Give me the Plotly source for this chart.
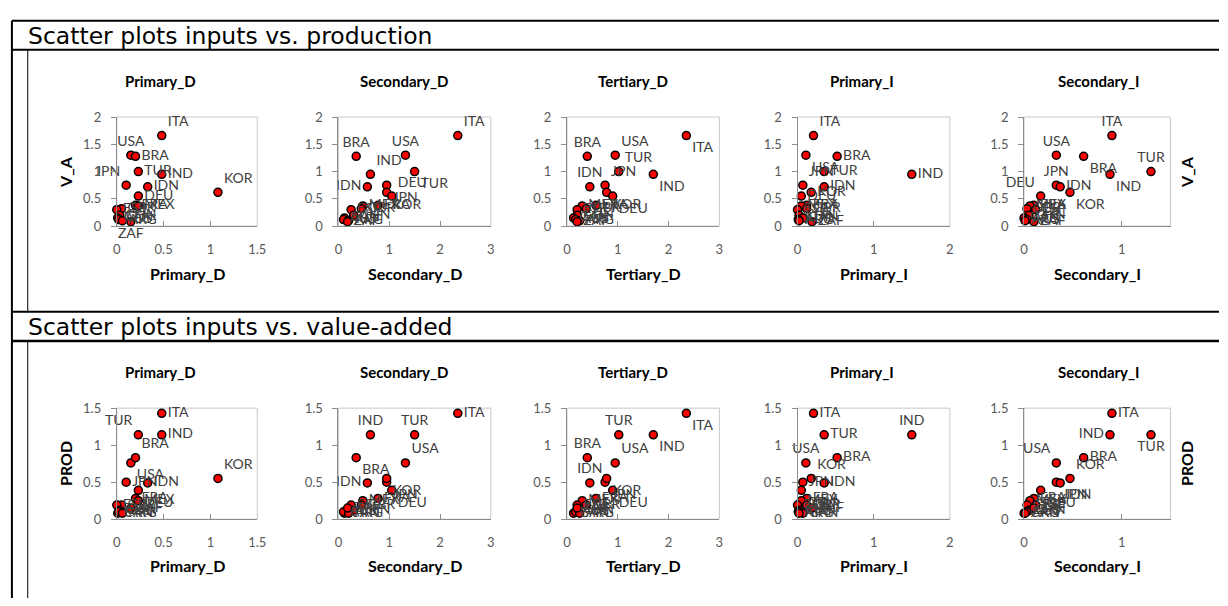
import plotly.graph_objects as go

# ---------------- data ----------------
countries = ["ITA", "USA", "BRA", "TUR", "IND", "JPN", "IDN", "KOR", "DEU",
             "FRA", "MEX", "GBR", "ESP", "CHN", "CAN", "AUS", "ARG", "ZAF"]
v_a = [1.66, 1.30, 1.28, 1.00, 0.95, 0.75, 0.72, 0.62, 0.55,
       0.38, 0.37, 0.32, 0.30, 0.20, 0.15, 0.12, 0.10, 0.08]
prod = [1.43, 0.76, 0.83, 1.14, 1.14, 0.50, 0.49, 0.55, 0.39,
        0.28, 0.25, 0.19, 0.19, 0.12, 0.08, 0.10, 0.08, 0.15]
primary_d = [0.48, 0.15, 0.20, 0.23, 0.48, 0.10, 0.33, 1.08, 0.23,
             0.20, 0.23, 0.05, 0.00, 0.03, 0.01, 0.02, 0.06, 0.15]
secondary_d = [2.35, 1.32, 0.35, 1.50, 0.63, 0.95, 0.57, 0.95, 1.05,
               0.78, 0.48, 0.45, 0.25, 0.30, 0.12, 0.10, 0.20, 0.18]
tertiary_d = [2.35, 0.95, 0.40, 1.02, 1.70, 0.75, 0.45, 0.78, 0.90,
              0.57, 0.30, 0.38, 0.20, 0.20, 0.13, 0.17, 0.25, 0.20]
primary_i = [0.21, 0.11, 0.52, 0.35, 1.50, 0.07, 0.35, 0.18, 0.05,
             0.12, 0.05, 0.12, 0.00, 0.02, 0.07, 0.01, 0.02, 0.19]
secondary_i = [0.90, 0.33, 0.61, 1.30, 0.88, 0.33, 0.37, 0.47, 0.17,
               0.10, 0.06, 0.03, 0.12, 0.05, 0.00, 0.03, 0.01, 0.10]

input_names = ["Primary_D", "Secondary_D", "Tertiary_D", "Primary_I", "Secondary_I"]
inputs = [primary_d, secondary_d, tertiary_d, primary_i, secondary_i]
output_names = ["V_A", "PROD"]
outputs = [v_a, prod]
section_titles = ["Scatter plots inputs vs. production", "Scatter plots inputs vs. value-added"]

x_ranges = [[0, 1.5], [0, 3], [0, 3], [0, 2], [0, 1.5]]
x_dticks = [0.5, 1, 1, 1, 1]
y_ranges = [[0, 2], [0, 1.5]]

# ---------------- layout helpers ----------------
W, H = 1228, 606
def fx(px):
    return px / W
def fy(py):
    return 1 - py / H

plot_x = [(114, 256), (338, 492), (569, 723), (802, 956), (1031, 1179)]
plot_y = [(112, 224), (411, 525)]
title_x = [158, 404, 636, 867, 1106]
title_y = [75, 374]
xtitle_y = [273, 573]

label_pos = [
    [
        {"ITA": "top right", "USA": "top center", "BRA": "middle right", "TUR": "middle right",
         "IND": "middle right", "JPN": "top left", "IDN": "middle right", "KOR": "top right",
         "DEU": "middle right", "ZAF": "bottom center"},
        {"ITA": "top right", "BRA": "top center", "USA": "top center", "TUR": "bottom right",
         "IND": "top right", "IDN": "middle left", "JPN": "bottom right", "KOR": "bottom right",
         "DEU": "top right"},
        {"ITA": "bottom right", "BRA": "top center", "USA": "top right", "TUR": "top right",
         "IND": "bottom right", "IDN": "top center", "JPN": "top right", "KOR": "bottom right",
         "DEU": "bottom right"},
        {"ITA": "top right", "BRA": "middle right", "USA": "bottom right", "TUR": "middle right",
         "IND": "middle right", "IDN": "middle right", "JPN": "top right", "KOR": "middle right",
         "DEU": "middle right"},
        {"ITA": "top center", "BRA": "bottom right", "USA": "top center", "TUR": "top center",
         "IND": "bottom right", "IDN": "middle right", "JPN": "top center", "KOR": "bottom right",
         "DEU": "top left"},
    ],
    [
        {"ITA": "middle right", "TUR": "top left", "IND": "middle right", "BRA": "top right",
         "USA": "bottom right", "KOR": "top right", "JPN": "middle right", "IDN": "middle right",
         "DEU": "bottom right"},
        {"ITA": "middle right", "IND": "top center", "TUR": "top center", "BRA": "bottom right",
         "USA": "top right", "KOR": "bottom right", "JPN": "bottom right", "IDN": "middle left",
         "DEU": "bottom right"},
        {"ITA": "bottom right", "TUR": "top center", "IND": "bottom right", "BRA": "top center",
         "USA": "top right", "KOR": "bottom right", "JPN": "bottom right", "IDN": "top center",
         "DEU": "bottom right"},
        {"ITA": "middle right", "TUR": "middle right", "IND": "top center", "BRA": "middle right",
         "USA": "top center", "KOR": "top right", "JPN": "middle right", "IDN": "middle right",
         "DEU": "bottom right"},
        {"ITA": "middle right", "IND": "middle left", "TUR": "bottom center", "BRA": "middle right",
         "USA": "top left", "KOR": "top right", "JPN": "bottom right", "IDN": "bottom right",
         "DEU": "bottom right"},
    ],
]

LBL = "Lato"
fig = go.Figure()
annotations = []
shapes = []
layout_axes = {}

for r in range(2):
    for c in range(5):
        idx = r * 5 + c + 1
        sfx = "" if idx == 1 else str(idx)
        pos = [label_pos[r][c].get(k, "middle right") for k in countries]
        fig.add_trace(go.Scatter(
            x=inputs[c], y=outputs[r], text=countries, mode="markers+text",
            textposition=pos, cliponaxis=False, showlegend=False, hoverinfo="skip",
            marker=dict(color="#FF0000", size=8, line=dict(color="#000000", width=1.5)),
            textfont=dict(family=LBL, size=14, color="#404040"),
            xaxis="x" + sfx, yaxis="y" + sfx))
        layout_axes["xaxis" + sfx] = dict(
            domain=[fx(plot_x[c][0]), fx(plot_x[c][1])], range=x_ranges[c],
            tick0=0, dtick=x_dticks[c], anchor="y" + sfx,
            showline=True, mirror=False, linecolor="#8C8C8C", linewidth=1,
            ticks="inside", ticklen=5, tickcolor="#8C8C8C",
            showgrid=False, zeroline=False, ticklabelstandoff=11,
            tickfont=dict(family=LBL, size=13, color="#595959"), fixedrange=True)
        layout_axes["yaxis" + sfx] = dict(
            domain=[fy(plot_y[r][1]), fy(plot_y[r][0])], range=y_ranges[r],
            tick0=0, dtick=0.5, anchor="x" + sfx,
            showline=True, mirror=False, linecolor="#8C8C8C", linewidth=1,
            ticks="outside", ticklen=5, tickcolor="#8C8C8C",
            showgrid=False, zeroline=False, ticklabelstandoff=7,
            tickfont=dict(family=LBL, size=13, color="#595959"), fixedrange=True)
        # light plot-area border
        shapes.append(dict(type="rect", xref="x" + sfx + " domain",
                           yref="y" + sfx + " domain", x0=0, y0=0, x1=1, y1=1,
                           line=dict(color="#C8C8C8", width=1), layer="below"))
        # panel title
        annotations.append(dict(
            text="<b>" + input_names[c] + "</b>", x=fx(title_x[c]), y=fy(title_y[r]),
            xref="paper", yref="paper", xanchor="center", yanchor="middle", showarrow=False,
            font=dict(family=LBL, size=15, color="#000000")))
        # x axis title
        annotations.append(dict(
            text="<b>" + input_names[c] + "</b>",
            x=fx((plot_x[c][0] + plot_x[c][1]) / 2), y=fy(xtitle_y[r]),
            xref="paper", yref="paper", xanchor="center", yanchor="middle", showarrow=False,
            font=dict(family=LBL, size=16, color="#000000")))
    ymid = (plot_y[r][0] + plot_y[r][1]) / 2
    for xp in (62, 1195):
        annotations.append(dict(
            text="<b>" + output_names[r] + "</b>", x=fx(xp), y=fy(ymid), textangle=-90,
            xref="paper", yref="paper", xanchor="center", yanchor="middle", showarrow=False,
            font=dict(family=LBL, size=16, color="#000000")))

# section headers
header_top = [13, 312]
header_bot = [43, 342]
for s in range(2):
    annotations.append(dict(
        text=section_titles[s], x=fx(22), y=fy((header_top[s] + header_bot[s]) / 2 + 1),
        xref="paper", yref="paper", xanchor="left", yanchor="middle", showarrow=False,
        font=dict(family="DejaVu Sans", size=23.5, color="#000000")))

def pline(x0, y0, x1, y1, w):
    shapes.append(dict(type="line", xref="paper", yref="paper",
                       x0=fx(x0), y0=fy(y0), x1=fx(x1), y1=fy(y1),
                       line=dict(color="#000000", width=w)))

pline(8, header_top[0], W, header_top[0], 2)
pline(8, header_bot[0], W, header_bot[0], 2)
pline(8, header_top[1], W, header_top[1], 2)
pline(8, header_bot[1], W, header_bot[1], 2.5)
pline(8, header_top[0], 8, H, 2)
pline(24, header_bot[0], 24, header_top[1], 1)
pline(24, header_bot[1], 24, H, 1)

fig.update_layout(
    width=W, height=H, autosize=False,
    margin=dict(l=0, r=0, t=0, b=0),
    paper_bgcolor="#FFFFFF", plot_bgcolor="#FFFFFF",
    annotations=annotations, shapes=shapes, showlegend=False,
    **layout_axes)

fig.write_html("out.html", config={"displayModeBar": False})
